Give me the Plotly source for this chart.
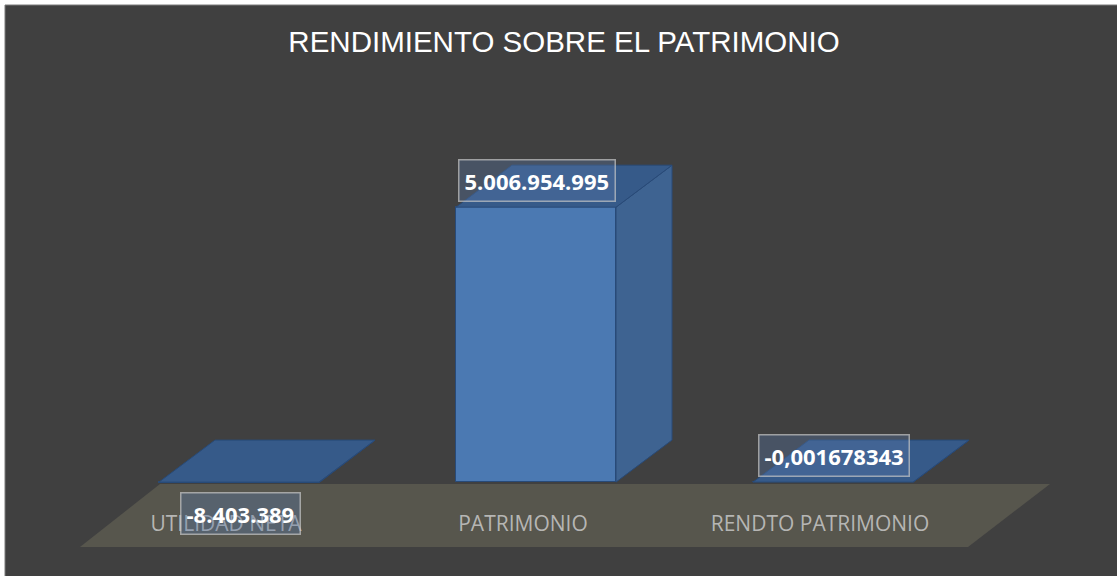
import plotly.graph_objects as go

# ---------------- data ----------------
categories = ["UTILIDAD NETA", "PATRIMONIO", "RENDTO PATRIMONIO"]
values = [-8403389, 5006954995, -0.001678343]
title_text = "RENDIMIENTO SOBRE EL PATRIMONIO"

# ---------------- style / layout ----------------
W, H = 1117, 576
BG = "#404040"
FLOOR = "#57564d"
FRONT = "#4b79b2"
SIDE = "#3e6391"
TOP = "#365a89"
EDGE = "#284a78"
label_side = ["below", "above", "above"]

# axis scales (pixel anchors of the original chart)
X0_PX, X_STEP_PX = 239.0, 297.0          # centre of first bar, category spacing
X_RANGE = [(0 - X0_PX) / X_STEP_PX, (W - X0_PX) / X_STEP_PX]
Y_RANGE = [-1.71e9, 8.78e9]
VAL_PER_PX = (Y_RANGE[1] - Y_RANGE[0]) / H

HALF_W = 80.0 / X_STEP_PX                # half bar width in x units
DEPTH_X = 56.0 / X_STEP_PX               # 3D depth offset
DEPTH_Y = 42.0 * VAL_PER_PX


def px_x(px):
    return X_RANGE[0] + px / X_STEP_PX


def px_y(py):
    return Y_RANGE[1] - py * VAL_PER_PX


def fmt(v):
    if abs(v) >= 1 and float(v).is_integer():
        return f"{v:,.0f}".replace(",", ".")
    return f"{v:.9f}".rstrip("0").replace(".", ",")


fig = go.Figure()

# front faces through the library's bar scale
fig.add_trace(go.Bar(
    x=list(range(len(values))), y=values, base=0, width=2 * HALF_W,
    marker=dict(color=FRONT, line=dict(color=EDGE, width=1)),
    hoverinfo="skip", showlegend=False,
))

# side and top faces computed from the same values
for i, v in enumerate(values):
    lo, hi = min(0, v), max(0, v)
    sx = [i + HALF_W, i + HALF_W + DEPTH_X, i + HALF_W + DEPTH_X, i + HALF_W, i + HALF_W]
    sy = [lo, lo + DEPTH_Y, hi + DEPTH_Y, hi, lo]
    fig.add_trace(go.Scatter(x=sx, y=sy, fill="toself", fillcolor=SIDE, mode="lines",
                             line=dict(color=EDGE, width=1), hoverinfo="skip", showlegend=False))
    tx = [i - HALF_W, i + HALF_W, i + HALF_W + DEPTH_X, i - HALF_W + DEPTH_X, i - HALF_W]
    ty = [hi, hi, hi + DEPTH_Y, hi + DEPTH_Y, hi]
    fig.add_trace(go.Scatter(x=tx, y=ty, fill="toself", fillcolor=TOP, mode="lines",
                             line=dict(color=EDGE, width=1), hoverinfo="skip", showlegend=False))

# data labels
for i, v in enumerate(values):
    fig.add_annotation(
        x=i, y=v, xref="x", yref="y", text=f"<b>{fmt(v)}</b>", showarrow=False,
        xshift=1, yshift=27 if label_side[i] == "above" else -31,
        font=dict(family="Open Sans", size=22, color="white"),
        bgcolor="rgba(90,120,170,0.35)", bordercolor="rgba(200,200,200,0.7)",
        borderwidth=1.5, borderpad=5,
    )

shapes = [
    # chart area background with border
    dict(type="rect", xref="paper", yref="paper", x0=5 / W, x1=1 + 2 / W, y0=-2 / H, y1=1 - 5 / H,
         fillcolor=BG, line=dict(color="#7a7a7a", width=1), layer="below"),
    # floor
    dict(type="path", xref="x", yref="y", layer="below", fillcolor=FLOOR, line=dict(width=0),
         path=(f"M {px_x(80)},{px_y(547)} L {px_x(968)},{px_y(547)} "
               f"L {px_x(1050)},{px_y(484)} L {px_x(160)},{px_y(484)} Z")),
]

fig.update_layout(
    width=W, height=H, margin=dict(l=0, r=0, t=0, b=0),
    paper_bgcolor="white", plot_bgcolor="rgba(0,0,0,0)",
    shapes=shapes, showlegend=False, bargap=0,
    title=dict(text=title_text, x=564 / W, y=1 - 42 / H, xanchor="center", yanchor="middle",
               font=dict(family="Liberation Sans", size=29.5, color="white")),
    xaxis=dict(range=X_RANGE, tickvals=list(range(len(categories))), ticktext=categories,
               showgrid=False, zeroline=False, showline=False, ticks="",
               anchor="free", position=(H - 509) / H, ticklabelshift=-13, ticklabelstandoff=0,
               tickfont=dict(family="Open Sans", size=21, color="rgba(200,200,200,0.85)"),
               fixedrange=True),
    yaxis=dict(range=Y_RANGE, showgrid=False, zeroline=False, showline=False,
               showticklabels=False, ticks="", fixedrange=True),
)

fig.write_html("out.html", post_script="document.body.style.margin='0px';",
               config={"displayModeBar": False})
